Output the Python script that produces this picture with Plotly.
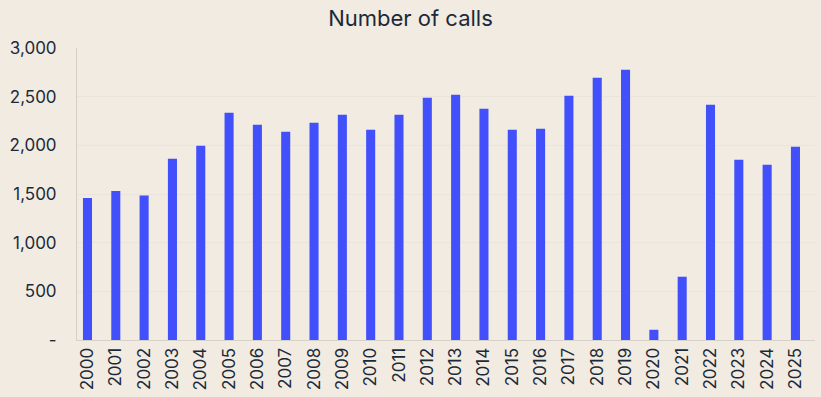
import plotly.graph_objects as go

years = [str(y) for y in range(2000, 2026)]
calls = [1460, 1532, 1484, 1862, 1995, 2335, 2211, 2139, 2232, 2314, 2160, 2314, 2489,
         2520, 2376, 2160, 2170, 2510, 2695, 2777, 105, 650, 2417, 1851, 1800, 1985]
ytick_vals = [0, 500, 1000, 1500, 2000, 2500, 3000]
ytick_text = ["-", "500", "1,000", "1,500", "2,000", "2,500", "3,000"]

BG = "#f2ebe1"
TXT = "#1b2a3a"
FONT = "Inter"

fig = go.Figure(go.Bar(x=years, y=calls, marker=dict(color="#4150fb", line=dict(width=0))))

fig.update_layout(
    width=821, height=397,
    paper_bgcolor=BG, plot_bgcolor=BG,
    margin=dict(l=77, r=6, t=48, b=57),
    bargap=0.68,
    showlegend=False,
    font=dict(family=FONT, color=TXT, size=16),
    title=dict(text="Number of calls", x=0.5, xanchor="center", y=0.955, yanchor="middle",
               font=dict(family=FONT, size=22, color=TXT)),
)
fig.update_xaxes(
    type="category", range=[-0.37, 25.69], automargin=False,
    tickangle=-90, tickfont=dict(size=17, color=TXT),
    showline=True, linecolor="#d6d1c8", linewidth=1,
    showgrid=False, ticks="",
)
fig.update_yaxes(
    range=[0, 3000], tickvals=ytick_vals, ticktext=ytick_text, automargin=False,
    tickfont=dict(size=17, color=TXT),
    showgrid=True, gridcolor="#ebe4da", gridwidth=1,
    showline=True, linecolor="#d6d1c8", linewidth=1,
    zeroline=False, ticks="", ticklabelstandoff=16,
)

fig.write_html("out.html", config={"displayModeBar": False},
               post_script="document.body.style.margin='0';")
